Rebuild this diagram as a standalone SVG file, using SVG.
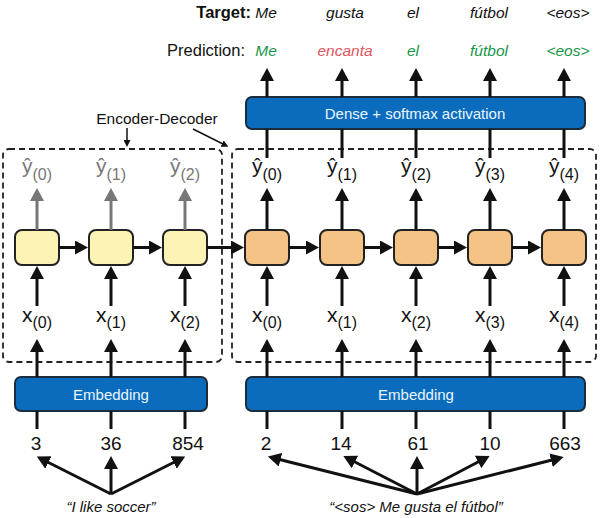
<svg xmlns="http://www.w3.org/2000/svg" width="600" height="518" viewBox="0 0 600 518">
<style>
text{font-family:"Liberation Sans",Arial,sans-serif;fill:#111}
.lbl{font-size:16.5px}
.it{font-style:italic;font-size:15.5px}
.g{fill:#16964a}
.r{fill:#e05560}
.btxt{font-size:15px;fill:#eaf5ff}
.num{font-size:19px}
.sub{font-size:16px}
.main{font-size:21px}
.gr{fill:#777}
.enc{fill:#fdf3b4;stroke:#222;stroke-width:2}
.dec{fill:#f6c386;stroke:#222;stroke-width:2}
.blue{fill:#0b6cbd;stroke:#1b2c3c;stroke-width:2}
.dash{fill:none;stroke:#222;stroke-width:1.8;stroke-dasharray:6 4}
.c{stroke:#111;stroke-width:3;fill:none}
.cg{stroke:#777;stroke-width:3;fill:none}
.a{marker-end:url(#ah)}
.ag{marker-end:url(#ahg)}
.thin{stroke:#111;stroke-width:1.5;fill:none;marker-end:url(#ahs)}
</style>
<defs>
<marker id="ah" viewBox="0 -7 13 14" markerWidth="13" markerHeight="14" refX="1" refY="0" orient="auto" markerUnits="userSpaceOnUse"><path d="M0,-7 L13,0 L0,7 Z" fill="#111"/></marker>
<marker id="ahg" viewBox="0 -7 13 14" markerWidth="13" markerHeight="14" refX="1" refY="0" orient="auto" markerUnits="userSpaceOnUse"><path d="M0,-7 L13,0 L0,7 Z" fill="#777"/></marker>
<marker id="ahs" viewBox="0 -3.5 7 7" markerWidth="7" markerHeight="7" refX="1" refY="0" orient="auto" markerUnits="userSpaceOnUse"><path d="M0,-3.5 L7,0 L0,3.5 Z" fill="#111"/></marker>
</defs>

<g id="header">
<text class="lbl" x="251" y="18" text-anchor="end" font-weight="bold">Target:</text>
<text class="it" x="266" y="18" text-anchor="middle">Me</text>
<text class="it" x="345" y="18" text-anchor="middle">gusta</text>
<text class="it" x="413" y="18" text-anchor="middle">el</text>
<text class="it" x="489" y="18" text-anchor="middle">fútbol</text>
<text class="it" x="568" y="18" text-anchor="middle" font-size="14">&lt;eos&gt;</text>
<text class="lbl" x="245" y="56" text-anchor="end">Prediction:</text>
<text class="it g" x="266" y="56" text-anchor="middle">Me</text>
<text class="it r" x="345" y="56" text-anchor="middle">encanta</text>
<text class="it g" x="413" y="56" text-anchor="middle">el</text>
<text class="it g" x="489" y="56" text-anchor="middle">fútbol</text>
<text class="it g" x="568" y="56" text-anchor="middle" font-size="14">&lt;eos&gt;</text>
</g>

<g id="dense">
<rect class="blue" x="246" y="97" width="339" height="32" rx="6"/>
<text class="btxt" x="415" y="118.5" text-anchor="middle">Dense + softmax activation</text>
</g>

<g id="encoder-decoder-label">
<text x="157" y="124" text-anchor="middle" font-size="15.5">Encoder-Decoder</text>
</g>

<g id="encoder-box"><rect class="dash" x="3" y="149" width="219" height="213" rx="6"/></g>
<g id="decoder-box"><rect class="dash" x="232" y="149" width="364" height="213" rx="6"/></g>

<g id="encoder-cells">
<rect class="enc" x="15" y="230" width="44" height="35" rx="7"/>
<rect class="enc" x="89" y="230" width="44" height="35" rx="7"/>
<rect class="enc" x="163" y="230" width="44" height="35" rx="7"/>
</g>
<g id="decoder-cells">
<rect class="dec" x="245" y="230" width="44" height="35" rx="7"/>
<rect class="dec" x="320" y="230" width="44" height="35" rx="7"/>
<rect class="dec" x="394" y="230" width="44" height="35" rx="7"/>
<rect class="dec" x="468" y="230" width="44" height="35" rx="7"/>
<rect class="dec" x="542" y="230" width="44" height="35" rx="7"/>
</g>

<g id="y-labels">
<text x="37" y="173" text-anchor="middle" class="gr"><tspan class="main gr">ŷ</tspan><tspan class="sub gr" dy="7">(0)</tspan></text>
<text x="111" y="173" text-anchor="middle" class="gr"><tspan class="main gr">ŷ</tspan><tspan class="sub gr" dy="7">(1)</tspan></text>
<text x="185" y="173" text-anchor="middle" class="gr"><tspan class="main gr">ŷ</tspan><tspan class="sub gr" dy="7">(2)</tspan></text>
<text x="267" y="173" text-anchor="middle"><tspan class="main">ŷ</tspan><tspan class="sub" dy="7">(0)</tspan></text>
<text x="342" y="173" text-anchor="middle"><tspan class="main">ŷ</tspan><tspan class="sub" dy="7">(1)</tspan></text>
<text x="416" y="173" text-anchor="middle"><tspan class="main">ŷ</tspan><tspan class="sub" dy="7">(2)</tspan></text>
<text x="490" y="173" text-anchor="middle"><tspan class="main">ŷ</tspan><tspan class="sub" dy="7">(3)</tspan></text>
<text x="564" y="173" text-anchor="middle"><tspan class="main">ŷ</tspan><tspan class="sub" dy="7">(4)</tspan></text>
</g>

<g id="x-labels">
<text x="37" y="322" text-anchor="middle"><tspan class="main">x</tspan><tspan class="sub" dy="6">(0)</tspan></text>
<text x="111" y="322" text-anchor="middle"><tspan class="main">x</tspan><tspan class="sub" dy="6">(1)</tspan></text>
<text x="185" y="322" text-anchor="middle"><tspan class="main">x</tspan><tspan class="sub" dy="6">(2)</tspan></text>
<text x="267" y="322" text-anchor="middle"><tspan class="main">x</tspan><tspan class="sub" dy="6">(0)</tspan></text>
<text x="342" y="322" text-anchor="middle"><tspan class="main">x</tspan><tspan class="sub" dy="6">(1)</tspan></text>
<text x="416" y="322" text-anchor="middle"><tspan class="main">x</tspan><tspan class="sub" dy="6">(2)</tspan></text>
<text x="490" y="322" text-anchor="middle"><tspan class="main">x</tspan><tspan class="sub" dy="6">(3)</tspan></text>
<text x="564" y="322" text-anchor="middle"><tspan class="main">x</tspan><tspan class="sub" dy="6">(4)</tspan></text>
</g>

<g id="embedding-enc">
<rect class="blue" x="15" y="377" width="192" height="34" rx="6"/>
<text class="btxt" x="111" y="399.5" text-anchor="middle">Embedding</text>
</g>
<g id="embedding-dec">
<rect class="blue" x="246" y="377" width="339" height="34" rx="6"/>
<text class="btxt" x="416" y="399.5" text-anchor="middle">Embedding</text>
</g>

<g id="ids">
<text class="num" x="36" y="450" text-anchor="middle">3</text>
<text class="num" x="111" y="450" text-anchor="middle">36</text>
<text class="num" x="188" y="450" text-anchor="middle">854</text>
<text class="num" x="266" y="450" text-anchor="middle">2</text>
<text class="num" x="341" y="450" text-anchor="middle">14</text>
<text class="num" x="418" y="450" text-anchor="middle">61</text>
<text class="num" x="490" y="450" text-anchor="middle">10</text>
<text class="num" x="565" y="450" text-anchor="middle">663</text>
</g>

<g id="sentences">
<text x="111" y="512" text-anchor="middle" font-style="italic" font-size="15">“I like soccer”</text>
<text x="416" y="512" text-anchor="middle" font-style="italic" font-size="15">“&lt;sos&gt; Me gusta el fútbol”</text>
</g>

<g id="connectors">
<path class="c a" d="M267,97 V80"/>
<path class="c a" d="M342,97 V80"/>
<path class="c a" d="M416,97 V80"/>
<path class="c a" d="M490,97 V80"/>
<path class="c a" d="M564,97 V80"/>
<path class="c" d="M267,158 V129"/>
<path class="c" d="M342,158 V129"/>
<path class="c" d="M416,158 V129"/>
<path class="c" d="M490,158 V129"/>
<path class="c" d="M564,158 V129"/>
<path class="cg ag" d="M37,230 V200"/>
<path class="cg ag" d="M111,230 V200"/>
<path class="cg ag" d="M185,230 V200"/>
<path class="c a" d="M267,230 V200"/>
<path class="c a" d="M342,230 V200"/>
<path class="c a" d="M416,230 V200"/>
<path class="c a" d="M490,230 V200"/>
<path class="c a" d="M564,230 V200"/>
<path class="c a" d="M59,247.5 H76"/>
<path class="c a" d="M133,247.5 H150"/>
<path class="c a" d="M207,247.5 H232"/>
<path class="c a" d="M289,247.5 H307"/>
<path class="c a" d="M364,247.5 H381"/>
<path class="c a" d="M438,247.5 H455"/>
<path class="c a" d="M512,247.5 H529"/>
<path class="c a" d="M37,306 V278"/>
<path class="c a" d="M111,306 V278"/>
<path class="c a" d="M185,306 V278"/>
<path class="c a" d="M267,306 V278"/>
<path class="c a" d="M342,306 V278"/>
<path class="c a" d="M416,306 V278"/>
<path class="c a" d="M490,306 V278"/>
<path class="c a" d="M564,306 V278"/>
<path class="c a" d="M37,377 V351"/>
<path class="c a" d="M111,377 V351"/>
<path class="c a" d="M185,377 V351"/>
<path class="c a" d="M267,377 V351"/>
<path class="c a" d="M342,377 V351"/>
<path class="c a" d="M416,377 V351"/>
<path class="c a" d="M490,377 V351"/>
<path class="c a" d="M564,377 V351"/>
<path class="c" d="M37,429 V411"/>
<path class="c" d="M111,429 V411"/>
<path class="c" d="M185,429 V411"/>
<path class="c" d="M267,429 V411"/>
<path class="c" d="M342,429 V411"/>
<path class="c" d="M416,429 V411"/>
<path class="c" d="M490,429 V411"/>
<path class="c" d="M564,429 V411"/>
<path class="c a" d="M111,494 L47.5,462"/>
<path class="c a" d="M111,494 V468"/>
<path class="c a" d="M111,494 L174.5,462"/>
<path class="c a" d="M417,494 L279.5,459.5"/>
<path class="c a" d="M417,494 L354,461.5"/>
<path class="c a" d="M417,494 V468"/>
<path class="c a" d="M417,494 L479,461.5"/>
<path class="c a" d="M417,494 L552,460"/>
<path class="thin" d="M127,128 V141"/>
<path class="thin" d="M193,129 L223,144"/>
</g>
</svg>
